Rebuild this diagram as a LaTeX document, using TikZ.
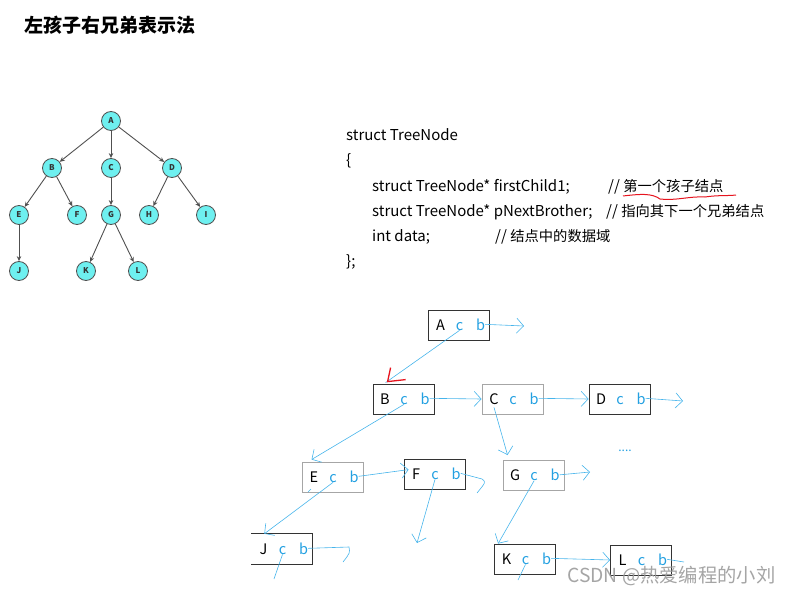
\documentclass[tikz,border=0pt]{standalone}
\usepackage{fontspec}
\setmainfont{Noto Sans CJK SC}
\usetikzlibrary{arrows.meta}
\definecolor{tfill}{RGB}{110,240,240}
\definecolor{tedge}{RGB}{80,80,80}
\definecolor{ink}{RGB}{35,160,225}
\definecolor{pen}{RGB}{70,180,235}
\definecolor{penred}{RGB}{230,20,30}
\definecolor{wm}{RGB}{155,155,155}
\newcommand\zh[1]{{\fontsize{14.3}{16}\selectfont #1}}
\newcommand\lcrsbox[5]{%
  \node[#5] (b#1) at (#2,#3) {};
  \node[lt,text=black] (#1l) at ([xshift=-18.5pt,yshift=-5pt]b#1.center) {#4};
  \node[lt] (#1c) at ([xshift=0.5pt,yshift=-5pt]b#1.center) {c};
  \node[lt] (#1b) at ([xshift=21.5pt,yshift=-5pt]b#1.center) {b};
}
\begin{document}
\begin{tikzpicture}[x=1pt,y=-1pt,
  tn/.style={circle,draw=tedge,fill=tfill,line width=0.8pt,minimum size=19pt,inner sep=0pt,font=\bfseries\fontsize{8}{8}\selectfont,text=black!80},
  te/.style={draw=tedge,line width=0.9pt,-{Stealth[length=5pt,width=4.5pt]}},
  code/.style={anchor=base west,inner sep=0pt,font=\fontsize{15}{16}\selectfont},
  bk/.style={draw=black!80,line width=0.8pt,minimum width=61pt,minimum height=30pt,inner sep=0pt},
  bg/.style={draw=black!35,line width=0.9pt,minimum width=61pt,minimum height=30pt,inner sep=0pt},
  bn/.style={draw=none,minimum width=61pt,minimum height=30pt,inner sep=0pt},
  lt/.style={anchor=base,inner sep=0pt,text=ink,font=\fontsize{14.5}{16}\selectfont},
  hl/.style={draw=pen,line width=0.6pt},
  ha/.style={hl,-{Straight Barb[length=7pt,width=15pt,line width=0.6pt]}},
]
\useasboundingbox (0,0) rectangle (794,596);
% title
\node[anchor=west,inner sep=0pt,font=\bfseries\fontsize{19}{21}\selectfont] (title) at (24,25) {左孩子右兄弟表示法};
% tree
\foreach \n/\x/\y in {A/111/121,B/52/168,C/111/168,D/172/168,E/19/215,F/77/215,G/111/215,H/149/215,I/206/215,J/19/271,K/86/271,L/138/271}
  \node[tn] (t\n) at (\x,\y) {\n};
\draw[te] (tA) -- (tB);
\draw[te] (tA) -- (tC);
\draw[te] (tA) -- (tD);
\draw[te] (tB) -- (tE);
\draw[te] (tB) -- (tF);
\draw[te] (tC) -- (tG);
\draw[te] (tD) -- (tH);
\draw[te] (tD) -- (tI);
\draw[te] (tE) -- (tJ);
\draw[te] (tG) -- (tK);
\draw[te] (tG) -- (tL);
% code
\node[code] (c1) at (346,141) {struct TreeNode};
\node[code] (c2) at (346,166) {\{};
\node[code] (c3) at (372,191) {struct TreeNode* firstChild1;};
\node[code] (c3b) at (608,191) {// \zh{第一个孩子结点}};
\node[code] (c4) at (372,216) {struct TreeNode* pNextBrother;};
\node[code] (c4b) at (606,216) {// \zh{指向其下一个兄弟结点}};
\node[code] (c5) at (372,241) {int data;};
\node[code] (c5b) at (495,241) {// \zh{结点中的数据域}};
\node[code] (c6) at (346,266) {\};};
\draw[penred,line width=1pt] (623,196) .. controls (640,194) and (652,193) .. (660,199) .. controls (675,201) and (690,196) .. (705,197) .. controls (718,195) and (728,196) .. (736,195);
% boxes
\lcrsbox{A}{459}{325}{A}{bk}
\lcrsbox{B}{403.5}{399}{B}{bk}
\lcrsbox{C}{512.5}{399}{C}{bg}
\lcrsbox{D}{619.5}{399}{D}{bk}
\lcrsbox{E}{332.5}{477}{E}{bg}
\lcrsbox{F}{434.5}{474}{F}{bk}
\lcrsbox{G}{533.5}{475.5}{G}{bg}
\lcrsbox{J}{282}{549}{J}{bn}
\lcrsbox{K}{525}{559}{K}{bk}
\lcrsbox{L}{641}{560}{L}{bk}
\draw[black!80,line width=0.8pt] (bJ.north west) -- (bJ.north east) -- (bJ.south east) -- (bJ.south west);
% free ends
\coordinate (Aend) at (524,326);
\coordinate (Dend) at (683,401);
\coordinate (Fend) at (482,479);
\coordinate (Fdown) at (417,543);
\coordinate (Jend) at (349,547);
\coordinate (Jdown) at (274,579);
\coordinate (Gend) at (590,472);
\coordinate (Kdown) at (518,580);
\coordinate (Lend) at (684,562);
\coordinate (Etick) at (308,492);
% connectors
\draw[ha] (Ab.east) -- (Aend);
\draw[hl] (Ac.south) -- ([xshift=13pt,yshift=1pt]bB.north west) coordinate (Btip);
\draw[penred,line width=1.3pt] ([xshift=5pt,yshift=15pt]Btip) -- ([xshift=2pt,yshift=1pt]Btip) -- ([xshift=20pt,yshift=3pt]Btip);
\draw[ha] (Bb.east) -- (bC.west);
\draw[ha] (Cb.east) -- (bD.west);
\draw[ha] (Db.east) -- (Dend);
\draw[ha] ([yshift=-3pt]Cl.south) -- ([xshift=5pt,yshift=5pt]bG.north west);
\draw[ha] (Bc.south) -- ([xshift=10pt,yshift=2pt]bE.north west);
\draw[ha] (Eb.east) -- ([xshift=5pt,yshift=-11pt]bF.north west);
\draw[hl] (Fb.east) -- (Fend) .. controls (486,482) .. (477,493);
\draw[ha] (Fc.south) -- (Fdown);
\draw[ha] (Ec.south) -- ([xshift=13pt]bJ.north west);
\draw[hl] (Jb.east) -- (Jend) .. controls (350,553) .. (343,562);
\draw[hl] (Jc.south) -- (Jdown);
\draw[ha] (Gb.east) -- (Gend);
\draw[ha] (Gc.south) -- ([xshift=4pt]bK.north west);
\draw[ha] (Kb.east) -- (bL.west);
\draw[hl] (Kc.south) -- (Kdown);
\draw[hl] (Lb.east) -- (Lend);
\draw[hl] (Etick) -- ++(3,-3);
\node[inner sep=0pt,text=ink,font=\fontsize{12}{12}\selectfont] (dots) at (625,451) {....};
% watermark
\node[anchor=west,inner sep=0pt,text=wm,opacity=0.9,font=\fontsize{19.3}{21}\selectfont] (wmk) at (567,576) {CSDN @热爱编程的小刘};
\end{tikzpicture}
\end{document}
